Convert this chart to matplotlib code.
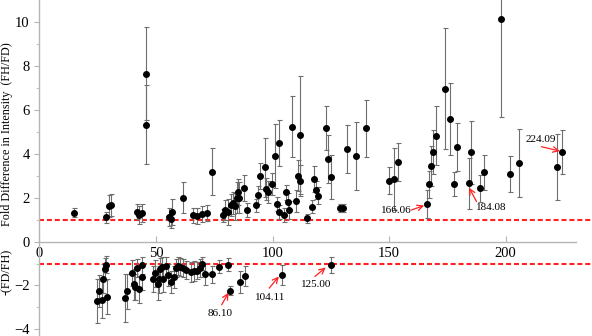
import matplotlib.pyplot as plt

plt.rcParams['font.family'] = ['Liberation Serif', 'DejaVu Serif']

# Datos: cociente FH/FD (positivos) y -(FD/FH) (negativos) con su error
up_x = [14.8, 28.8, 29.7, 30.8, 41.7, 42.8, 44.1, 45.6, 45.6, 55.6, 56.4, 56.8,
        61.7, 65.8, 67.6, 69.9, 71.8, 74.2, 78.6, 79.7, 81.0, 82.0, 83.0, 83.9,
        84.6, 85.0, 85.8, 87.8, 88.9, 92.9, 93.9, 94.8, 96.7, 97.1, 97.9, 99.9,
        101.0, 101.8, 102.9, 102.8, 104.9, 105.8, 106.8, 107.0, 108.2, 109.9,
        110.9, 111.8, 112.0, 114.9, 116.8, 117.9, 118.7, 119.7, 122.9, 123.9,
        124.9, 129.0, 130.2, 132.0, 135.9, 140.0, 150.0, 151.9, 153.9, 166.1,
        167.0, 167.9, 168.9, 170.2, 174.0, 175.9, 177.9, 179.0, 184.1, 185.1,
        188.9, 190.7, 198.0, 201.8, 205.7, 222.0, 224.2]
up_y = [1.31, 1.10, 1.64, 1.66, 1.36, 1.21, 1.30, 7.65, 5.32, 1.12, 1.03, 1.34,
        2.00, 1.20, 1.16, 1.25, 1.30, 3.18, 1.20, 1.44, 1.35, 1.68, 1.74, 1.60,
        2.00, 2.27, 2.00, 2.44, 1.44, 1.66, 2.12, 3.00, 3.38, 2.38, 2.24, 2.62,
        3.91, 1.71, 4.47, 1.35, 1.21, 2.24, 1.82, 1.44, 5.23, 1.85,
        3.00, 4.85, 2.78, 1.06, 1.59, 2.85, 2.35, 2.09, 5.16, 3.75,
        2.92, 1.53, 1.53, 4.22, 3.88, 5.16, 2.78, 2.86, 3.62, 1.71,
        2.60, 3.45, 4.09, 4.82, 6.97, 5.57, 2.62, 4.32, 2.65, 4.06,
        2.42, 3.15, 10.15, 3.07, 3.56, 3.38, 4.07]
up_err = [0.20, 0.25, 0.50, 0.50, 0.35, 0.40, 0.40, 2.10, 1.80, 0.40, 0.40, 0.60,
          0.70, 0.35, 0.35, 0.35, 0.35, 1.07, 0.30, 0.45, 0.60, 0.50, 0.50, 0.60,
          0.70, 0.60, 0.70, 0.60, 0.30, 0.30, 0.40, 0.60, 1.35, 0.50, 0.50, 0.50,
          1.45, 0.30, 1.05, 0.30, 0.30, 0.35, 0.40, 0.40, 1.40, 0.50,
          0.70, 2.70, 0.70, 0.20, 0.30, 0.60, 0.40, 0.40, 1.00, 1.10,
          1.00, 0.20, 0.20, 1.10, 1.55, 1.30, 0.60, 1.40, 0.85, 0.65,
          0.60, 0.90, 1.00, 1.35, 2.76, 1.63, 0.55, 1.10, 1.15, 1.45,
          0.60, 0.80, 4.47, 0.83, 1.55, 1.50, 1.00]

low_x = [24.9, 25.7, 26.8, 27.5, 28.0, 28.8, 28.9, 36.7, 37.8, 39.9, 40.6, 41.0,
         41.7, 42.9, 43.9, 43.9, 48.7, 49.8, 50.7, 51.2, 51.8, 52.7, 53.0, 54.2,
         55.0, 56.6, 57.8, 58.6, 59.6, 60.5, 61.6, 62.9, 65.0, 66.3, 67.5, 69.0,
         69.8, 71.0, 74.1, 77.0, 81.0, 81.7, 86.0, 88.0, 104.2, 124.9]
low_y = [-2.70, -2.25, -2.65, -1.69, -1.27, -1.05, -2.52, -2.58, -2.27, -1.44, -1.95, -2.08,
         -1.20, -2.18, -1.08, -1.60, -1.69, -1.45, -1.95, -1.72, -1.27, -1.18, -1.70, -1.12,
         -1.53, -1.83, -1.62, -1.20, -1.10, -1.17, -1.21, -1.29, -1.38, -1.35, -1.32, -1.20,
         -1.00, -1.47, -1.49, -1.15, -1.05, -2.23, -1.84, -1.56, -1.52, -1.06]
low_err = [1.00, 0.75, 0.85, 0.65, 0.50, 0.40, 0.80, 1.10, 0.80, 0.60, 0.70, 0.60,
           0.40, 0.60, 0.40, 0.60, 0.60, 0.60, 0.70, 0.60, 0.50, 0.50, 0.60, 0.40,
           0.50, 0.50, 0.50, 0.40, 0.40, 0.40, 0.40, 0.40, 0.45, 0.45, 0.40, 0.40,
           0.30, 0.50, 0.40, 0.30, 0.30, 0.20, 0.50, 0.45, 0.45, 0.35]

# Etiquetas señaladas con flecha roja
ann_labels = ['86.10', '104.11', '125.00', '166.06', '184.08', '224.09']
ann_text = [(77.5, -3.26), (99.2, -2.55), (118.6, -1.94), (152.9, 1.41), (193.9, 1.55), (215.0, 4.65)]
ann_tail = [(78.2, -2.88), (98.6, -2.12), (118.2, -1.59), (159.6, 1.44), (187.5, 1.82), (215.3, 4.32)]
ann_head = [(81.1, -2.33), (102.7, -1.59), (122.8, -1.18), (165.0, 1.64), (184.3, 2.45), (223.2, 4.12)]

fig = plt.figure(figsize=(5.92, 3.36), dpi=100)
ax = fig.add_axes([39.3 / 592, 0, 1 - 39.3 / 592, 1])

eb_style = dict(fmt='o', color='black', markersize=4, ecolor='#6e6e6e',
                elinewidth=0.8, capsize=1.8, capthick=0.8, zorder=3)
ax.errorbar(up_x, up_y, yerr=up_err, **eb_style)
ax.errorbar(low_x, low_y, yerr=low_err, **eb_style)

# Lineas de referencia en 1 y -1
for yv in [1, -1]:
    ax.axhline(yv, color='#ff2020', linestyle=(0, (2.4, 1.4)), linewidth=1.5, zorder=2)

for lab, t, tail, head in zip(ann_labels, ann_text, ann_tail, ann_head):
    ax.text(t[0], t[1], lab, fontsize=8, ha='center', va='center')
    ax.annotate('', xy=head, xytext=tail,
                arrowprops=dict(arrowstyle='->', color='#ff2020', lw=0.9,
                                shrinkA=0, shrinkB=0))

ax.set_xlim(0, 237)
ax.set_ylim(-4.3, 11.0)

# Ejes: eje x cruzando en y=0
ax.spines['top'].set_visible(False)
ax.spines['right'].set_visible(False)
ax.spines['bottom'].set_position(('data', 0))
ax.spines['bottom'].set_bounds(0, 230)
for s in ['left', 'bottom']:
    ax.spines[s].set_color('#b5b5b5')
    ax.spines[s].set_linewidth(1.0)

ax.set_xticks([0, 50, 100, 150, 200])
ax.set_yticks([-4, -2, 0, 2, 4, 6, 8, 10])
ax.set_yticks(range(-3, 11, 2), minor=True)
ax.tick_params(axis='x', direction='in', length=4, color='#b5b5b5', labelsize=10.5, pad=4)
ax.tick_params(axis='y', which='major', direction='out', length=3.5, color='#b5b5b5', labelsize=10.5)
ax.tick_params(axis='y', which='minor', direction='out', length=2, color='#b5b5b5')

# Etiquetas del eje y (dos partes)
fig.text(7 / 592, 1 - 134 / 336, 'Fold Difference in Intensity  (FH/FD)', rotation=90,
         ha='center', va='center', fontsize=8.7)
fig.text(7 / 592, 1 - 272 / 336, '-(FD/FH)', rotation=90,
         ha='center', va='center', fontsize=8.7)

plt.savefig('out.png', dpi=100)
plt.close()
